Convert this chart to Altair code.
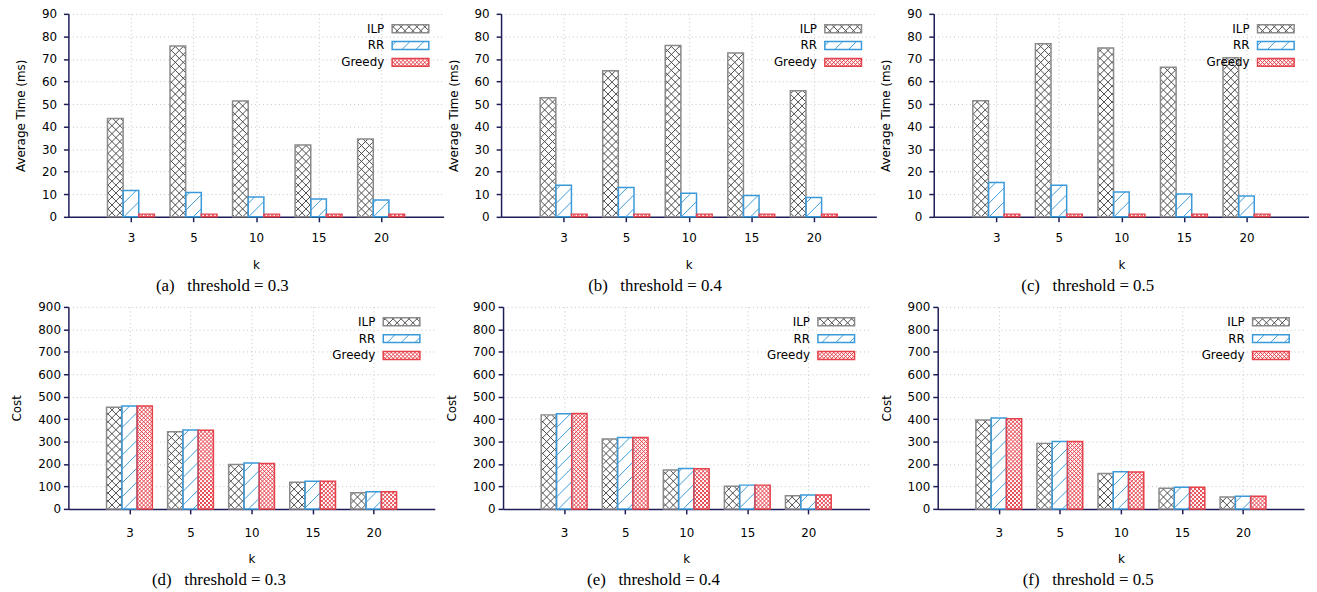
import altair as alt
import numpy as np
import pandas as pd

# ---------------- data ----------------
K_LABELS = ["3", "5", "10", "15", "20"]
SERIES = ["ILP", "RR", "Greedy"]

# Average time (ms)
TIME_ILP_03 = [43.6, 75.7, 51.4, 31.9, 34.5]
TIME_RR_03 = [11.7, 10.8, 8.8, 7.9, 7.5]
TIME_GREEDY_03 = [1.2, 1.2, 1.2, 1.2, 1.2]

TIME_ILP_04 = [52.8, 64.8, 76.0, 72.6, 55.9]
TIME_RR_04 = [14.0, 13.0, 10.5, 9.5, 8.6]
TIME_GREEDY_04 = [1.2, 1.2, 1.2, 1.2, 1.2]

TIME_ILP_05 = [51.5, 76.7, 74.9, 66.3, 70.5]
TIME_RR_05 = [15.2, 14.0, 11.0, 10.1, 9.2]
TIME_GREEDY_05 = [1.2, 1.2, 1.2, 1.2, 1.2]

# Cost
COST_ILP_03 = [453, 344, 198, 119, 72]
COST_RR_03 = [459, 352, 205, 123, 76]
COST_GREEDY_03 = [459, 350, 202, 123, 76]

COST_ILP_04 = [419, 312, 173, 101, 59]
COST_RR_04 = [424, 318, 180, 106, 62]
COST_GREEDY_04 = [425, 318, 179, 106, 62]

COST_ILP_05 = [396, 292, 158, 92, 53]
COST_RR_05 = [405, 300, 166, 97, 56]
COST_GREEDY_05 = [402, 300, 164, 97, 56]

CAPTIONS = [
    "(a)\u00a0\u00a0\u00a0threshold = 0.3",
    "(b)\u00a0\u00a0\u00a0threshold = 0.4",
    "(c)\u00a0\u00a0\u00a0threshold = 0.5",
    "(d)\u00a0\u00a0\u00a0threshold = 0.3",
    "(e)\u00a0\u00a0\u00a0threshold = 0.4",
    "(f)\u00a0\u00a0\u00a0threshold = 0.5",
]

# ---------------- styling ----------------
XMIN, XMAX = -1.0, 5.0
BAR_W = 0.25
OFFSETS = {"ILP": -0.25, "RR": 0.0, "Greedy": 0.25}
EDGE = {"ILP": "#8a8a8a", "RR": "#3a9ad9", "Greedy": "#e5424b"}
LINE = {"ILP": "#4a4a4a", "RR": "#3a9ad9", "Greedy": "#e5424b"}
PERIOD = {"ILP": 8.0, "RR": 14.0, "Greedy": 4.0}
KINDS = {"ILP": "/\\", "RR": "/", "Greedy": "/\\"}
AXIS_COLOR = "#1d1d57"
SANS = "DejaVu Sans"
SERIF = "Liberation Serif"


def hatch(x0, x1, y0, y1, p, kinds):
    """Hatch segments (pixel space, y upward) clipped to a rectangle."""
    segs = []
    if "/" in kinds:  # x - y = c
        c = np.ceil((x0 - y1) / p) * p
        while c <= x1 - y0:
            lo = max(x0, y0 + c)
            hi = min(x1, y1 + c)
            if hi - lo > 0.3:
                segs.append((lo, lo - c, hi, hi - c))
            c += p
    if "\\" in kinds:  # x + y = c
        c = np.ceil((x0 + y0) / p) * p
        while c <= x1 + y1:
            lo = max(x0, c - y1)
            hi = min(x1, c - y0)
            if hi - lo > 0.3:
                segs.append((lo, c - lo, hi, c - hi))
            c += p
    return segs


def make_panel(values, ymax, ystep, ytitle, caption, W, H, ylab_pad,
               xlab_pad, xtitle_pad, cap_offset, cap_dx):
    sx = W / (XMAX - XMIN)
    sy = H / ymax
    rects, segs, texts = [], [], []

    def add_rect(s, x0d, x1d, y0d, y1d):
        rects.append(dict(series=s, x0=x0d, x1=x1d, y0=y0d, y1=y1d))
        px0, px1 = (x0d - XMIN) * sx, (x1d - XMIN) * sx
        py0, py1 = y0d * sy, y1d * sy
        for a, b, c, d in hatch(px0, px1, py0, py1, PERIOD[s], KINDS[s]):
            segs.append(dict(series=s, x0=XMIN + a / sx, y0=b / sy,
                             x1=XMIN + c / sx, y1=d / sy))

    for s in SERIES:
        for i, v in enumerate(values[s]):
            c = i + OFFSETS[s]
            add_rect(s, c - BAR_W / 2, c + BAR_W / 2, 0.0, float(v))

    # in-plot legend (top right)
    for j, s in enumerate(SERIES):
        yc = H - (15 + 17 * j)
        add_rect(s, XMIN + (W - 52) / sx, XMIN + (W - 15) / sx,
                 (yc - 4) / sy, (yc + 4) / sy)
        texts.append(dict(series=s, x0=XMIN + (W - 60) / sx, y1=yc / sy))

    rdf = pd.DataFrame(rects)
    sdf = pd.DataFrame(segs)
    tdf = pd.DataFrame(texts)

    xscale = alt.Scale(domain=[XMIN, XMAX], nice=False, zero=False)
    yscale = alt.Scale(domain=[0, ymax], nice=False)
    label_expr = "[" + ",".join("'%s'" % k for k in K_LABELS) + "][datum.value]"
    xaxis = alt.Axis(values=list(range(len(K_LABELS))), labelExpr=label_expr,
                     title="k", grid=True, tickSize=5, labelPadding=xlab_pad,
                     titlePadding=xtitle_pad, labelAngle=0)
    yaxis = alt.Axis(values=list(range(0, ymax + 1, ystep)), title=ytitle,
                     grid=True, tickSize=5, labelPadding=ylab_pad,
                     titlePadding=14)

    X = alt.X("x0:Q", scale=xscale, axis=xaxis)
    Y = alt.Y("y1:Q", scale=yscale, axis=yaxis)

    base_fill = alt.Chart(rdf).mark_rect(color="white").encode(
        x=X, x2="x1:Q", y=Y, y2="y0:Q",
    )
    hatch_layer = alt.Chart(sdf).mark_rule(strokeWidth=1).encode(
        x=X, x2="x1:Q", y=alt.Y("y0:Q", scale=yscale, axis=yaxis), y2="y1:Q",
        color=alt.Color("series:N", legend=None,
                        scale=alt.Scale(domain=SERIES,
                                        range=[LINE[s] for s in SERIES])),
    )
    outline = alt.Chart(rdf).mark_rect(fillOpacity=0, strokeWidth=1.5).encode(
        x=X, x2="x1:Q", y=Y, y2="y0:Q",
        stroke=alt.Stroke("series:N", legend=None,
                          scale=alt.Scale(domain=SERIES,
                                          range=[EDGE[s] for s in SERIES])),
    )
    labels = alt.Chart(tdf).mark_text(align="right", baseline="middle",
                                      font=SANS, fontSize=12,
                                      color="black").encode(
        x=X, y=Y, text="series:N",
    )
    return alt.layer(base_fill, hatch_layer, outline, labels).properties(
        width=W, height=H,
        title=alt.TitleParams(text=caption, orient="bottom", anchor="middle",
                              frame="group", font=SERIF, fontSize=17,
                              fontWeight="normal", color="black",
                              offset=cap_offset, dx=cap_dx),
    )


TW, TH = 379, 205
BW, BH = 370, 204
TOP_ARGS = dict(ylab_pad=7, xlab_pad=11, xtitle_pad=16, cap_offset=8, cap_dx=-34)
BOT_ARGS = dict(ylab_pad=3, xlab_pad=14, xtitle_pad=15, cap_offset=8, cap_dx=-33)

pa = make_panel({"ILP": TIME_ILP_03, "RR": TIME_RR_03, "Greedy": TIME_GREEDY_03},
                90, 10, "Average Time (ms)", CAPTIONS[0], TW, TH, **TOP_ARGS)
pb = make_panel({"ILP": TIME_ILP_04, "RR": TIME_RR_04, "Greedy": TIME_GREEDY_04},
                90, 10, "Average Time (ms)", CAPTIONS[1], TW, TH, **TOP_ARGS)
pc = make_panel({"ILP": TIME_ILP_05, "RR": TIME_RR_05, "Greedy": TIME_GREEDY_05},
                90, 10, "Average Time (ms)", CAPTIONS[2], TW, TH, **TOP_ARGS)
pd_ = make_panel({"ILP": COST_ILP_03, "RR": COST_RR_03, "Greedy": COST_GREEDY_03},
                 900, 100, "Cost", CAPTIONS[3], BW, BH, **BOT_ARGS)
pe = make_panel({"ILP": COST_ILP_04, "RR": COST_RR_04, "Greedy": COST_GREEDY_04},
                900, 100, "Cost", CAPTIONS[4], BW, BH, **BOT_ARGS)
pf = make_panel({"ILP": COST_ILP_05, "RR": COST_RR_05, "Greedy": COST_GREEDY_05},
                900, 100, "Cost", CAPTIONS[5], BW, BH, **BOT_ARGS)

top = alt.hconcat(pa, pb, pc, spacing=3)
bottom = alt.hconcat(pd_, pe, pf, spacing=11)

chart = alt.vconcat(top, bottom, spacing=7).properties(
    padding={"left": 3, "top": -3, "right": 0, "bottom": 0}
).configure_view(stroke=None).configure_axis(
    domainColor=AXIS_COLOR, domainWidth=1.5,
    tickColor=AXIS_COLOR, tickWidth=1.5,
    labelFont=SANS, labelFontSize=12, labelColor="black",
    titleFont=SANS, titleFontSize=12, titleFontWeight="normal", titleColor="black",
    gridColor="#c4c4c4", gridDash=[1, 3], gridWidth=1,
)

chart.save("out.html", embed_options={"renderer": "svg", "actions": False})
